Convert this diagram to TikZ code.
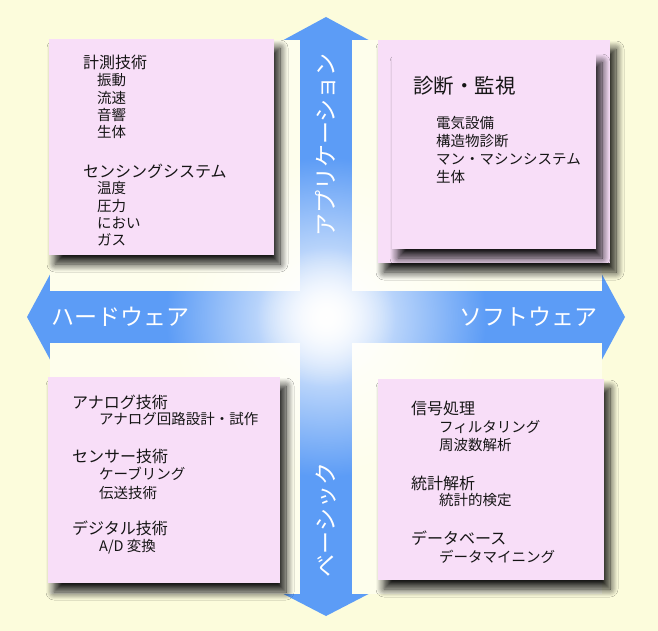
\documentclass[tikz,border=0pt]{standalone}
\usepackage{fontspec}
\setmainfont{Noto Sans CJK JP}
\usetikzlibrary{shadows.blur,fadings}
\definecolor{bg}{HTML}{FCFCDC}
\definecolor{cream}{HTML}{FEFEEC}
\definecolor{arrowblue}{HTML}{5C9CF6}
\definecolor{boxpink}{HTML}{F8DEF8}
\definecolor{ink}{HTML}{151515}
\tikzfading[name=glowfade, inner color=transparent!0, outer color=transparent!100]
\begin{document}
\begin{tikzpicture}[x=1pt,y=-1pt,
  pinkbox/.style={fill=boxpink, draw=none, inner sep=0,
    blur shadow={shadow xshift=6pt, shadow yshift=-9pt, shadow blur radius=8pt, shadow blur steps=12, shadow opacity=90}},
  creambox/.style={fill=cream, draw=none},
  lbl/.style={anchor=west, inner sep=0, text=ink, font=\fontsize{14.5}{16}\selectfont},
  hdr/.style={lbl, font=\fontsize{16}{18}\selectfont},
  bighdr/.style={lbl, font=\fontsize{20.5}{22}\selectfont},
  axislbl/.style={inner sep=0, text=white, font=\fontsize{23}{25}\selectfont}]
% background
\fill[bg] (0,0) rectangle (658,631);
\useasboundingbox (0,0) rectangle (658,631);
% cross of arrows
\fill[arrowblue] (300,594) -- (300,40) -- (283.5,40) -- (326,17) -- (368.5,40) -- (352,40)
  -- (352,594) -- (368.5,594) -- (326,616) -- (283.5,594) -- cycle;
\fill[arrowblue] (50,291) -- (602,291) -- (602,274.5) -- (625,317) -- (602,359.5) -- (602,343)
  -- (50,343) -- (50,359.5) -- (27,317) -- (50,274.5) -- cycle;
% quadrant panels
\fill[creambox] (50,40) rectangle (300,291);
\fill[creambox] (352,40) rectangle (602,291);
\fill[creambox] (50,343) rectangle (300,594);
\fill[creambox] (352,343) rectangle (602,594);
% central glow
\coordinate (c) at (326,317);
\fill[white, path fading=glowfade] (c) circle (160);
\fill[white, path fading=glowfade] (c) circle (70);
% axis labels
\node[axislbl] (hw) at (120,317) {ハードウェア};
\node[axislbl] (sw) at (528,317) {ソフトウェア};
\node[axislbl, rotate=90] (app) at (326,145) {アプリケーション};
\node[axislbl, rotate=90] (basic) at (326,520) {ベーシック};
% pink boxes
\node[pinkbox, minimum width=225, minimum height=216] (tl) at (161.5,147) {};
\node[pinkbox, minimum width=232, minimum height=223] (tro) at (494,151.5) {};
\node[pinkbox, minimum width=204, minimum height=196] (tri) at (494,151) {};
\node[pinkbox, minimum width=232, minimum height=206] (bl) at (164,480) {};
\node[pinkbox, minimum width=226, minimum height=201] (br) at (491,479.5) {};
% top-left texts
\node[hdr] (t1) at (83,62) {計測技術};
\node[lbl] (t2) at (97,80) {振動};
\node[lbl] (t3) at (97,97.5) {流速};
\node[lbl] (t4) at (97,115) {音響};
\node[lbl] (t5) at (97,132) {生体};
\node[hdr] (t6) at (83,171) {センシングシステム};
\node[lbl] (t7) at (97,188) {温度};
\node[lbl] (t8) at (97,206) {圧力};
\node[lbl] (t9) at (97,223) {におい};
\node[lbl] (t10) at (97,240) {ガス};
% top-right texts
\node[bighdr] (r1) at (413,86) {診断・監視};
\node[lbl] (r2) at (436,123) {電気設備};
\node[lbl] (r3) at (436,141) {構造物診断};
\node[lbl] (r4) at (436,159) {マン・マシンシステム};
\node[lbl] (r5) at (436,177) {生体};
% bottom-left texts
\node[hdr] (b1) at (72,402) {アナログ技術};
\node[lbl] (b2) at (99,419) {アナログ回路設計・試作};
\node[hdr] (b3) at (72,456) {センサー技術};
\node[lbl] (b4) at (99,474) {ケーブリング};
\node[lbl] (b5) at (99,493) {伝送技術};
\node[hdr] (b6) at (72,528) {デジタル技術};
\node[lbl] (b7) at (99,547) {A/D 変換};
% bottom-right texts
\node[hdr] (s1) at (411,408) {信号処理};
\node[lbl] (s2) at (439,427) {フィルタリング};
\node[lbl] (s3) at (439,445) {周波数解析};
\node[hdr] (s4) at (411,483) {統計解析};
\node[lbl] (s5) at (439,500) {統計的検定};
\node[hdr] (s6) at (411,538) {データベース};
\node[lbl] (s7) at (439,557) {データマイニング};
\end{tikzpicture}
\end{document}
